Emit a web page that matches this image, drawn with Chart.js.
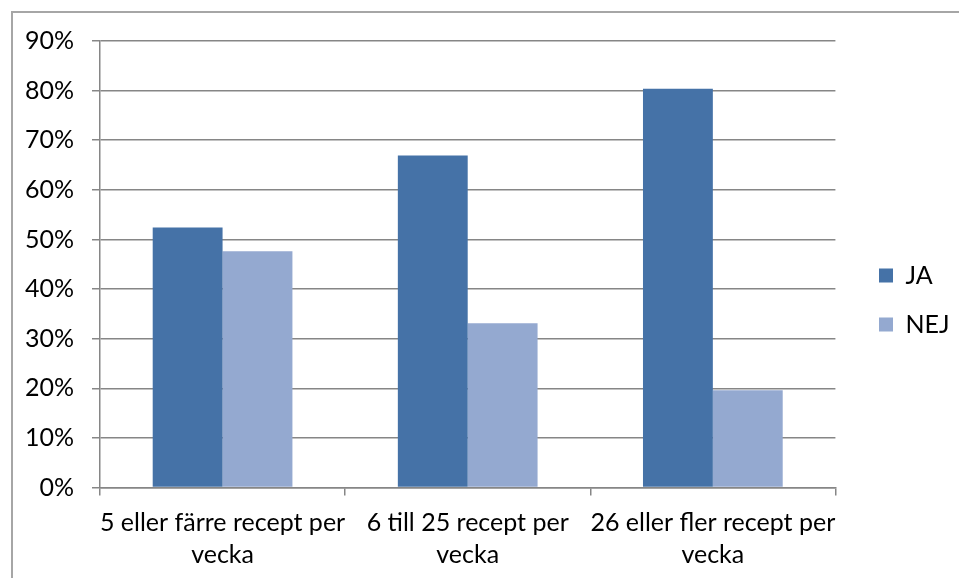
<!DOCTYPE html>
<html>
<head>
<meta charset="utf-8">
<script src="https://cdn.jsdelivr.net/npm/chart.js@4/dist/chart.umd.min.js"></script>
<style>
  html, body { margin: 0; padding: 0; background: #fff; }
  #wrap { position: relative; width: 959px; height: 578px; overflow: hidden; }
  #frame { position: absolute; left: 11px; top: 11px; width: 1200px; height: 1200px; border: 2px solid #a6a6a6; box-sizing: border-box; }
  canvas { position: absolute; left: 0; top: 0; }
</style>
</head>
<body>
<div id="wrap">
  <div id="frame"></div>
  <canvas id="c" width="959" height="578"></canvas>
</div>
<script>
const categories = [
  ['5 eller färre recept per', 'vecka'],
  ['6 till 25 recept per', 'vecka'],
  ['26 eller fler recept per', 'vecka']
];
const seriesNames = ['JA', 'NEJ'];
const jaValues = [52.4, 66.9, 80.4];
const nejValues = [47.6, 33.1, 19.6];
const yTicks = [0, 10, 20, 30, 40, 50, 60, 70, 80, 90];

const FONT = 'Lato';
const FS = 25;
const gridColor = '#868686';

const legendShift = {
  id: 'legendShift',
  afterLayout(chart) {
    const lg = chart.legend;
    if (lg) {
      const dx = 836 + 43 - 24 - lg.left;
      lg.left += dx; lg.right += dx;
      lg.top -= 9.5; lg.bottom -= 9.5;
    }
  }
};

new Chart(document.getElementById('c'), {
  type: 'bar',
  data: {
    labels: categories,
    datasets: [
      { label: seriesNames[0], data: jaValues, backgroundColor: '#4572a7' },
      { label: seriesNames[1], data: nejValues, backgroundColor: '#94a9d0' }
    ]
  },
  options: {
    responsive: false,
    animation: false,
    devicePixelRatio: 1,
    layout: { padding: { top: 41, right: 19, left: 0, bottom: 0 } },
    categoryPercentage: 0.57,
    barPercentage: 1.0,
    plugins: {
      legend: {
        position: 'right',
        labels: {
          boxWidth: 14, boxHeight: 14, padding: 24,
          color: '#000',
          font: { family: FONT, size: FS }
        }
      },
      tooltip: { enabled: false }
    },
    scales: {
      x: {
        afterFit(s) { s.height = 90.5; },
        grid: { drawOnChartArea: false, drawTicks: true, tickLength: 8, color: gridColor, lineWidth: 1.5 },
        border: { color: gridColor, width: 1.5 },
        ticks: { color: '#000', padding: 11, maxRotation: 0, autoSkip: false, font: { family: FONT, size: FS, lineHeight: 1.28 } }
      },
      y: {
        min: 0, max: 90,
        afterFit(s) { s.width = 100; },
        afterBuildTicks(s) { s.ticks = yTicks.map(v => ({ value: v })); },
        grid: { color: gridColor, lineWidth: 1.5, tickLength: 8 },
        border: { color: gridColor, width: 1.5 },
        ticks: { color: '#000', padding: 18, font: { family: FONT, size: FS }, callback: v => v + '%' }
      }
    }
  },
  plugins: [legendShift]
});
</script>
</body>
</html>
